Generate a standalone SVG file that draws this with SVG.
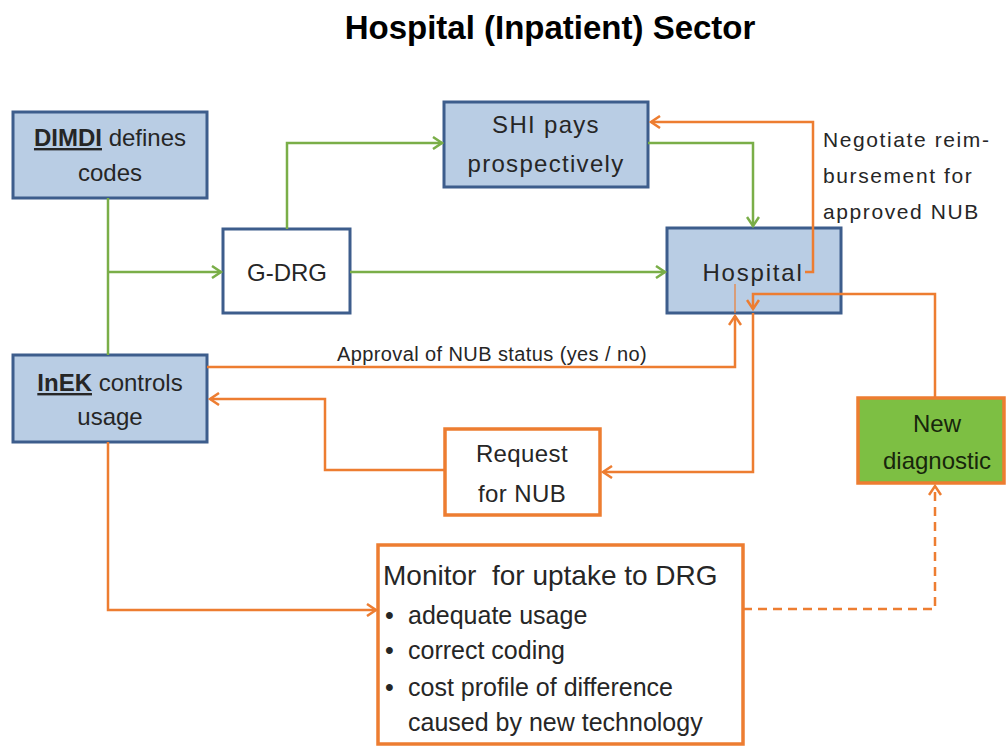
<svg xmlns="http://www.w3.org/2000/svg" width="1007" height="747" viewBox="0 0 1007 747">
<style>
text{font-family:"Liberation Sans",Arial,sans-serif;fill:#262626}
.title{font-size:33px;font-weight:bold;fill:#000}
.blue{fill:#b9cde4;stroke:#3d5d8c;stroke-width:3}
.white{fill:#fff;stroke:#3d5d8c;stroke-width:3}
.obox{fill:#fff;stroke:#ed7d31;stroke-width:3.5}
.gbox{fill:#7dbf43;stroke:#ed7d31;stroke-width:3.5}
.g{fill:none;stroke:#7aae48;stroke-width:2.5}
.o{fill:none;stroke:#ed7d31;stroke-width:2.5}
.dash{stroke-dasharray:9 6}
.lbl{font-size:24px;text-anchor:middle}
.dk{fill:#17260c}
</style>
<defs>
<marker id="ag" markerUnits="userSpaceOnUse" markerWidth="14" markerHeight="14" refX="11" refY="7" orient="auto"><path d="M2,1 L11,7 L2,13" fill="none" stroke="#7aae48" stroke-width="2.5"/></marker>
<marker id="ao" markerUnits="userSpaceOnUse" markerWidth="14" markerHeight="14" refX="11" refY="7" orient="auto"><path d="M2,1 L11,7 L2,13" fill="none" stroke="#ed7d31" stroke-width="2.5"/></marker>
</defs>
<rect width="1007" height="747" fill="#fff"/>
<text class="title" x="550" y="39" text-anchor="middle">Hospital (Inpatient) Sector</text>

<g id="dimdi">
<rect class="blue" x="13" y="112" width="194" height="86"/>
<text class="lbl" x="110" y="146"><tspan font-weight="bold" text-decoration="underline">DIMDI</tspan> defines</text>
<text class="lbl" x="110" y="181">codes</text>
</g>

<g id="gdrg">
<rect class="white" x="223" y="229" width="127" height="84"/>
<text class="lbl" x="287" y="281" font-size="25">G-DRG</text>
</g>

<g id="shi">
<rect class="blue" x="444" y="102" width="204" height="85"/>
<text class="lbl" x="546" y="133" font-size="25" letter-spacing="1.3">SHI pays</text>
<text class="lbl" x="546" y="172" font-size="25" letter-spacing="1.3">prospectively</text>
</g>

<g id="hospital">
<rect class="blue" x="667" y="228" width="174" height="85"/>
<text class="lbl" x="753" y="281" font-size="25" letter-spacing="1.8">Hospital</text>
</g>

<g id="inek">
<rect class="blue" x="13" y="355" width="194" height="87"/>
<text class="lbl" x="110" y="391"><tspan font-weight="bold" text-decoration="underline">InEK</tspan> controls</text>
<text class="lbl" x="110" y="425">usage</text>
</g>

<g id="request">
<rect class="obox" x="445" y="429" width="155" height="86"/>
<text class="lbl" x="522" y="462" font-size="25" letter-spacing="0.4">Request</text>
<text class="lbl" x="522" y="502" font-size="25" letter-spacing="0.4">for NUB</text>
</g>

<g id="newdiag">
<rect class="gbox" x="858" y="398" width="146" height="85"/>
<text class="lbl dk" x="937" y="432" font-size="26">New</text>
<text class="lbl dk" x="937" y="469" font-size="26">diagnostic</text>
</g>

<g id="monitor">
<rect class="obox" x="378" y="545" width="365" height="199"/>
<text x="383" y="585" font-size="28" xml:space="preserve">Monitor  for uptake to DRG</text>
<text x="385" y="624" font-size="25">•</text>
<text x="408" y="624" font-size="25">adequate usage</text>
<text x="385" y="659" font-size="25">•</text>
<text x="408" y="659" font-size="25">correct coding</text>
<text x="385" y="696" font-size="25">•</text>
<text x="408" y="696" font-size="25">cost profile of difference</text>
<text x="408" y="731" font-size="25">caused by new technology</text>
</g>

<g id="connectors">
<path class="g" d="M108,198 V355"/>
<path class="g" d="M108,272 H221" marker-end="url(#ag)"/>
<path class="g" d="M287,229 V143 H442" marker-end="url(#ag)"/>
<path class="g" d="M350,272 H665" marker-end="url(#ag)"/>
<path class="g" d="M648,143 H753 V226" marker-end="url(#ag)"/>
<path class="o" d="M805,272 H813 V122 H651" marker-end="url(#ao)"/>
<path class="o" d="M207,367 H735 V316" marker-end="url(#ao)"/>
<path d="M735,284 V313" stroke="#ed7d31" stroke-width="1.2" fill="none"/>
<path class="o" d="M935,398 V294 H753 V309" marker-end="url(#ao)"/>
<path class="o" d="M753,313 V472 H603" marker-end="url(#ao)"/>
<path class="o" d="M445,470 H325 V399 H210" marker-end="url(#ao)"/>
<path class="o" d="M108,442 V610 H376" marker-end="url(#ao)"/>
<path class="o dash" d="M743,609 H935 V486" marker-end="url(#ao)"/>
<text x="492" y="361" font-size="20" letter-spacing="0.4" text-anchor="middle">Approval of NUB status (yes / no)</text>
<text x="823" y="147" font-size="21" letter-spacing="1.6">Negotiate reim-</text>
<text x="823" y="183" font-size="21" letter-spacing="1.6">bursement for</text>
<text x="823" y="219" font-size="21" letter-spacing="1.6">approved NUB</text>
</g>
</svg>
